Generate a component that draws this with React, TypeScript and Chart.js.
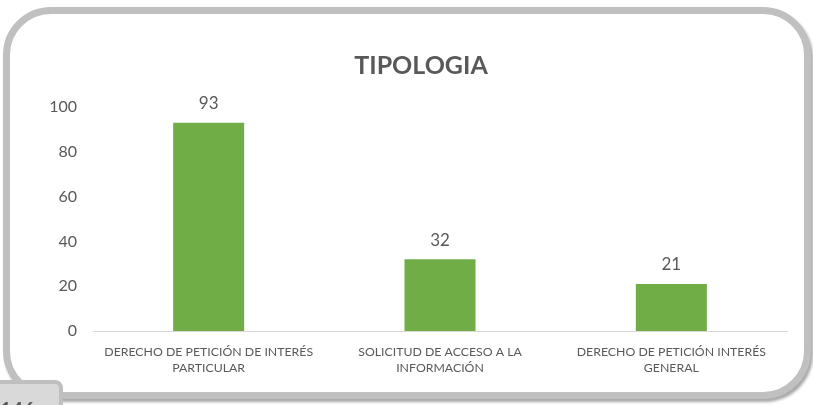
import React, { useEffect, useRef } from "react";
import { Chart, registerables } from "chart.js";

Chart.register(...registerables);

const categories: string[][] = [
  ["DERECHO DE PETICIÓN DE INTERÉS", "PARTICULAR"],
  ["SOLICITUD DE ACCESO A LA", "INFORMACIÓN"],
  ["DERECHO DE PETICIÓN INTERÉS", "GENERAL"],
];
const values: number[] = [93, 32, 21];
const chartTitle = "TIPOLOGIA";
const cornerLabel = "146";

const TEXT = "#595959";

const dataLabels = {
  id: "dataLabels",
  afterDatasetsDraw(chart: any) {
    const ctx = chart.ctx;
    const meta = chart.getDatasetMeta(0);
    ctx.save();
    ctx.fillStyle = TEXT;
    ctx.font = "17px Lato";
    ctx.textAlign = "center";
    ctx.textBaseline = "middle";
    meta.data.forEach((el: any, i: number) => {
      ctx.fillText(String(values[i]), el.x, el.y - 19);
    });
    ctx.restore();
  },
};

const titlePlugin = {
  id: "customTitle",
  afterDraw(chart: any) {
    const ctx = chart.ctx;
    ctx.save();
    ctx.fillStyle = TEXT;
    ctx.font = "bold 25px Lato";
    ctx.textAlign = "center";
    ctx.textBaseline = "middle";
    ctx.fillText(chartTitle, 421, 66);
    ctx.restore();
  },
};

export default function App() {
  const ref = useRef<HTMLCanvasElement>(null);
  useEffect(() => {
    if (!ref.current) return;
    const chart = new Chart(ref.current, {
      type: "bar",
      data: {
        labels: categories,
        datasets: [
          {
            data: values,
            backgroundColor: "#70ad47",
            barPercentage: 0.307,
            categoryPercentage: 1,
          },
        ],
      },
      options: {
        animation: false,
        responsive: false,
        layout: { padding: { left: 0, right: 26, top: 107, bottom: 0 } },
        plugins: {
          legend: { display: false },
          tooltip: { enabled: false },
          title: { display: false },
        },
        scales: {
          y: {
            min: 0,
            max: 100,
            ticks: {
              stepSize: 20,
              padding: 8,
              color: TEXT,
              font: { family: "Lato", size: 16 },
            },
            grid: { display: false },
            border: { display: false },
            afterFit: (s: any) => {
              s.width = 93;
            },
          },
          x: {
            grid: { display: false },
            border: { display: true, color: "#d9d9d9", width: 1 },
            ticks: {
              color: TEXT,
              font: { family: "Lato", size: 12.3, lineHeight: 1.3 },
              padding: 5,
              maxRotation: 0,
              autoSkip: false,
            },
            afterFit: (s: any) => {
              s.height = 74;
            },
          },
        },
      },
      plugins: [dataLabels, titlePlugin],
    });
    return () => chart.destroy();
  }, []);

  return (
    <div
      style={{
        position: "fixed",
        left: 0,
        top: 0,
        width: 813,
        height: 405,
        overflow: "hidden",
        background: "#ffffff",
      }}
    >
      <div
        style={{
          position: "absolute",
          left: 3,
          top: 7,
          width: 808,
          height: 392,
          boxSizing: "border-box",
          border: "7px solid #c0c0c0",
          borderRadius: 48,
          background: "#ffffff",
          boxShadow: "2px 3px 3px rgba(0,0,0,0.35)",
        }}
      />
      <canvas
        ref={ref}
        width={813}
        height={405}
        style={{ position: "absolute", left: 0, top: 0, width: 813, height: 405 }}
      />
      <div
        style={{
          position: "absolute",
          left: -8,
          top: 380,
          width: 71,
          height: 40,
          boxSizing: "border-box",
          border: "4px solid #bfbfbf",
          borderRadius: 8,
          background: "#d9d9d9",
          fontFamily: "Lato",
          fontWeight: "bold",
          fontSize: 20,
          color: TEXT,
          paddingLeft: 4,
          paddingTop: 15,
          lineHeight: "20px",
        }}
      >
        {cornerLabel}
      </div>
    </div>
  );
}
